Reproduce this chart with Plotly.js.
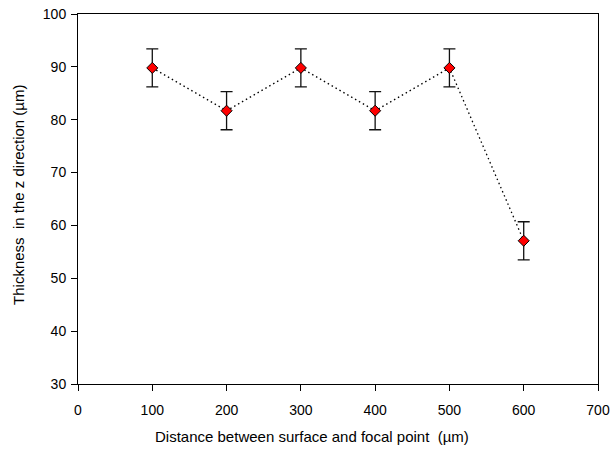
<!DOCTYPE html>
<html>
<head>
<meta charset="utf-8">
<script src="https://cdn.plot.ly/plotly-3.0.1.min.js"></script>
<style>
  html, body { margin: 0; padding: 0; background: #fff; }
  #chart { width: 610px; height: 452px; }
</style>
</head>
<body>
<div id="chart"></div>
<script>
// Distance between sample surface and focal point (µm)
const distance = [100, 200, 300, 400, 500, 600];
// Measured thickness along z (µm)
const thickness = [89.8, 81.7, 89.8, 81.7, 89.8, 57.1];
// Standard deviation of thickness (µm)
const thicknessErr = [3.6, 3.6, 3.6, 3.6, 3.6, 3.6];

const xTicks = [0, 100, 200, 300, 400, 500, 600, 700];
const yTicks = [30, 40, 50, 60, 70, 80, 90, 100];

const xTitle = 'Distance between surface and focal point  (\u00b5m)';
const yTitle = 'Thickness  in the z direction (\u00b5m)';

const family = 'Liberation Sans, Arial, sans-serif';
const tickFont = { family: family, size: 14, color: '#000' };
const titleFont = { family: family, size: 15, color: '#000' };

const trace = {
  x: distance,
  y: thickness,
  type: 'scatter',
  mode: 'lines+markers',
  line: { color: '#000', width: 1.3, dash: '1.5px,3px' },
  marker: { symbol: 'diamond', size: 8.5, color: '#ff0000', line: { color: '#000', width: 1 } },
  error_y: { type: 'data', array: thicknessErr, visible: true, color: '#111', thickness: 1.3, width: 6 },
  hoverinfo: 'x+y'
};

const axisCommon = {
  ticks: 'outside',
  ticklen: 6,
  tickwidth: 1,
  tickcolor: '#000',
  showgrid: false,
  zeroline: false,
  showline: true,
  linecolor: '#000',
  linewidth: 1,
  mirror: true,
  tickfont: tickFont
};

const layout = {
  width: 610,
  height: 452,
  margin: { l: 78, r: 12, t: 14, b: 68 },
  paper_bgcolor: '#fff',
  plot_bgcolor: '#fff',
  showlegend: false,
  font: tickFont,
  xaxis: Object.assign({}, axisCommon, {
    range: [0, 700],
    tickvals: xTicks,
    ticktext: xTicks.map(String),
    ticklabelstandoff: 7
  }),
  yaxis: Object.assign({}, axisCommon, {
    range: [30, 100],
    tickvals: yTicks,
    ticktext: yTicks.map(String),
    ticklabelstandoff: 2
  }),
  annotations: [
    {
      text: xTitle, font: titleFont, showarrow: false,
      xref: 'paper', yref: 'paper', x: 0.45, y: -0.1432,
      xanchor: 'center', yanchor: 'middle'
    },
    {
      text: yTitle, font: titleFont, showarrow: false, textangle: -90,
      xref: 'paper', yref: 'paper', x: -0.1135, y: 0.511,
      xanchor: 'center', yanchor: 'middle'
    }
  ]
};

Plotly.newPlot('chart', [trace], layout, { displayModeBar: false, staticPlot: true });
</script>
</body>
</html>
